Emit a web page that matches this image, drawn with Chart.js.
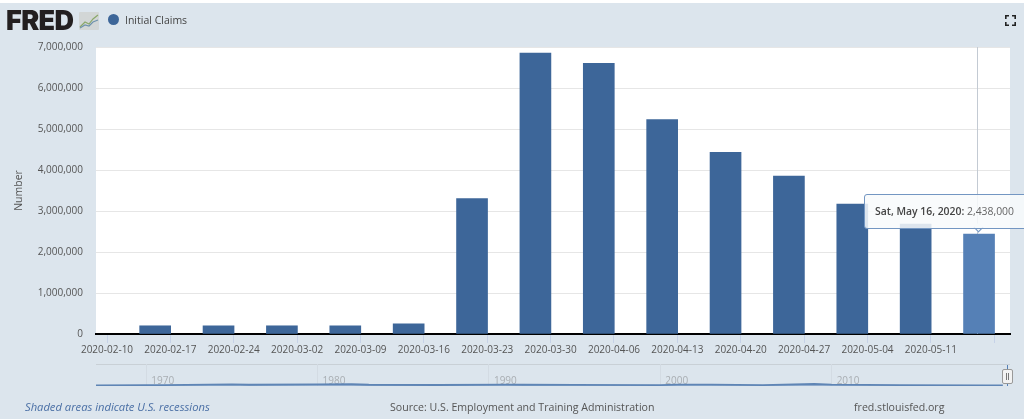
<!DOCTYPE html>
<html>
<head>
<meta charset="utf-8">
<title>Initial Claims</title>
<script src="https://cdn.jsdelivr.net/npm/chart.js@4/dist/chart.umd.min.js"></script>
<style>
    html, body { margin: 0; padding: 0; width: 1024px; height: 419px; overflow: hidden; background: #dce5ed; font-family: "Open Sans", sans-serif; }
    canvas { position: absolute; display: block; }
    .txt { position: absolute; white-space: nowrap; }
    #topstrip { position: absolute; left: 0; top: 0; width: 1024px; height: 3px; background: #fff; }
    #logo { left: 6px; top: 6px; font: 900 27px/30px Inter, sans-serif; letter-spacing: -0.6px; color: #231f20; }
    #legendDot { position: absolute; left: 108px; top: 14px; width: 11px; height: 11px; border-radius: 50%; background: #3d6699; }
    #legendText { left: 125px; top: 12px; font-size: 10.5px; line-height: 16px; color: #444; }
    #shaded { left: 25px; top: 399px; font-size: 11.2px; line-height: 16px; font-style: italic; color: #4a6fa5; }
    #source { left: 390px; top: 399px; font-size: 10.6px; line-height: 16px; color: #555; }
    #site { left: 854px; top: 399px; font-size: 10.6px; line-height: 16px; color: #555; }
    #tip { position: absolute; box-sizing: border-box; width: 180px; height: 35px; background: rgba(248,250,252,0.86); border: 1px solid #7396c2; border-radius: 3px; font-size: 10.4px; line-height: 33px; padding-left: 10px; color: #666; white-space: nowrap; display: none; }
    #tip b { font-weight: 600; color: #444; }
    #tipCaret { position: absolute; width: 6px; height: 6px; background: #f8fafc; border-right: 1px solid #7396c2; border-bottom: 1px solid #7396c2; transform: rotate(45deg); display: none; }
    #handle { position: absolute; left: 1002px; top: 369px; width: 9px; height: 13px; background: #f2f2f2; border: 1px solid #999; border-radius: 2px; }
    #handle i { position: absolute; top: 3px; width: 1px; height: 7px; background: #777; }
    #handleLine { position: absolute; left: 1007px; top: 365px; width: 1px; height: 21px; background: #5580b6; }
</style>
</head>
<body>
<div id="topstrip"></div>
<canvas id="main" width="1024" height="419" style="left:0;top:0"></canvas>
<canvas id="nav" width="914" height="24" style="left:96px;top:364px"></canvas>

<div class="txt" id="logo">FRED</div>
<svg style="position:absolute;left:79px;top:12px" width="20" height="18">
    <rect width="20" height="18" rx="1" fill="#d2d6d6"/>
    <polyline points="1,15 6,10 10,12 14,7 19,3" fill="none" stroke="#8aa86a" stroke-width="1.2"/>
    <polyline points="1,16 6,13 10,14 14,10 19,8" fill="none" stroke="#6f93ad" stroke-width="1.2"/>
</svg>
<div id="legendDot"></div>
<div class="txt" id="legendText"></div>
<svg style="position:absolute;left:1005px;top:15px" width="11" height="11" fill="none" stroke="#222" stroke-width="1.6">
    <path d="M0.8,4 V0.8 H4 M7,0.8 H10.2 V4 M10.2,7 V10.2 H7 M4,10.2 H0.8 V7"/>
</svg>
<div class="txt" id="shaded">Shaded areas indicate U.S. recessions</div>
<div class="txt" id="source">Source: U.S. Employment and Training Administration</div>
<div class="txt" id="site">fred.stlouisfed.org</div>
<div id="handleLine"></div>
<div id="handle"><i style="left:3px"></i><i style="left:5px"></i></div>
<div id="tipCaret"></div>
<div id="tip"></div>

<script>
const seriesName = 'Initial Claims';
const barDates = ['2020-02-15', '2020-02-22', '2020-02-29', '2020-03-07', '2020-03-14', '2020-03-21', '2020-03-28',
    '2020-04-04', '2020-04-11', '2020-04-18', '2020-04-25', '2020-05-02', '2020-05-09', '2020-05-16'];
const claims = [200000, 200000, 200000, 200000, 250000, 3300000, 6850000,
    6600000, 5230000, 4430000, 3850000, 3170000, 2680000, 2438000];
const tickDates = ['2020-02-10', '2020-02-17', '2020-02-24', '2020-03-02', '2020-03-09', '2020-03-16', '2020-03-23',
    '2020-03-30', '2020-04-06', '2020-04-13', '2020-04-20', '2020-04-27', '2020-05-04', '2020-05-11'];
const lastTickDate = '2020-05-18'; // tick without a label
const yTicks = [0, 1000000, 2000000, 3000000, 4000000, 5000000, 6000000, 7000000];

// navigator: long history, rough values read from the strip
const navYears = [1967, 1970, 1971, 1975, 1976, 1980, 1982, 1983, 1987, 1991, 1992, 1995, 2000, 2001, 2003, 2006, 2009, 2010, 2014, 2019, 2020];
const navClaims = [210000, 290000, 300000, 500000, 400000, 500000, 560000, 400000, 320000, 420000, 400000, 340000, 290000, 420000, 410000, 310000, 640000, 460000, 300000, 215000, 220000];
const navTicks = [1970, 1980, 1990, 2000, 2010];

const DAY = 86400000;
const barShift = 0.32 * DAY;
const ms = s => Date.parse(s + 'T00:00:00Z');

document.getElementById('legendText').textContent = seriesName;

const crosshair = {
    id: 'crosshair',
    beforeDatasetsDraw(chart) {
        const active = chart.getActiveElements();
        if (!active.length) return;
        const x = Math.round(active[0].element.x) - 1.5;
        const { ctx, chartArea } = chart;
        ctx.save();
        ctx.strokeStyle = '#c3cad3';
        ctx.lineWidth = 1;
        ctx.beginPath();
        ctx.moveTo(x, chartArea.top);
        ctx.lineTo(x, chartArea.bottom);
        ctx.stroke();
        ctx.restore();
    }
};

const plotBg = {
    id: 'plotBg',
    beforeDraw(chart) {
        const { ctx, chartArea: a } = chart;
        ctx.fillStyle = '#fff';
        ctx.fillRect(a.left, a.top, a.right - a.left, a.bottom - a.top);
    }
};

function drawTip(context) {
    const tooltip = context.tooltip;
    const box = document.getElementById('tip');
    const caret = document.getElementById('tipCaret');
    if (tooltip.opacity === 0) return;
    const title = tooltip.title[0];
    const value = tooltip.body[0].lines[0];
    box.innerHTML = '<b>' + title + ':</b> ' + value;
    box.style.display = 'block';
    box.style.left = (tooltip.caretX - 115) + 'px';
    box.style.top = (tooltip.caretY - 40) + 'px';
    caret.style.display = 'block';
    caret.style.left = (tooltip.caretX - 4) + 'px';
    caret.style.top = (tooltip.caretY - 10) + 'px';
}

const main = new Chart(document.getElementById('main'), {
    type: 'bar',
    data: {
        datasets: [{
            label: seriesName,
            data: barDates.map((d, i) => ({ x: ms(d) + barShift, y: claims[i] })),
            backgroundColor: '#3d6699',
            hoverBackgroundColor: '#5580b6',
            borderWidth: 0,
            barThickness: 31
        }]
    },
    options: {
        responsive: false,
        animation: false,
        events: [],
        layout: { padding: { top: 47, right: 14, bottom: 55, left: 0 } },
        interaction: { mode: 'nearest', axis: 'x', intersect: false },
        scales: {
            x: {
                type: 'linear',
                offset: false,
                min: ms('2020-02-08') + 0.785 * DAY,
                max: ms('2020-05-19') + 0.74 * DAY,
                afterBuildTicks(scale) {
                    scale.ticks = tickDates.concat(lastTickDate).map(d => ({ value: ms(d) }));
                },
                afterFit(scale) { scale.height = 30; },
                grid: { offset: false, drawOnChartArea: false, color: '#c6d2e8', tickLength: 9 },
                border: { color: '#000', width: 2 },
                ticks: {
                    autoSkip: false,
                    maxRotation: 0,
                    padding: 1,
                    color: '#555',
                    font: { family: 'Open Sans', size: 10 },
                    callback(v) {
                        const d = new Date(v).toISOString().slice(0, 10);
                        return tickDates.includes(d) ? d : '';
                    }
                }
            },
            y: {
                min: 0,
                max: 7000000,
                afterBuildTicks(scale) { scale.ticks = yTicks.map(v => ({ value: v })); },
                afterFit(scale) { scale.width = 96; },
                grid: { color: '#e6e6e6', drawTicks: false },
                border: { display: false },
                title: { display: true, text: 'Number', color: '#555', padding: { top: 13, bottom: 0 }, font: { family: 'Open Sans', size: 10.5 } },
                ticks: {
                    padding: 13,
                    color: '#555',
                    font: { family: 'Open Sans', size: 10 },
                    callback: v => v.toLocaleString('en-US')
                }
            }
        },
        plugins: {
            legend: { display: false },
            tooltip: {
                enabled: false,
                external: drawTip,
                callbacks: {
                    title: items => new Date(items[0].parsed.x).toLocaleDateString('en-US', { weekday: 'short', month: 'short', day: 'numeric', year: 'numeric', timeZone: 'UTC' }),
                    label: item => item.parsed.y.toLocaleString('en-US')
                }
            }
        }
    },
    plugins: [plotBg, crosshair]
});

const last = claims.length - 1;
main.setActiveElements([{ datasetIndex: 0, index: last }]);
main.tooltip.setActiveElements([{ datasetIndex: 0, index: last }], { x: 0, y: 0 });
main.update();

new Chart(document.getElementById('nav'), {
    type: 'line',
    data: {
        datasets: [{
            data: navYears.map((y, i) => ({ x: y, y: navClaims[i] })),
            borderColor: '#5f85b5',
            borderWidth: 1.8,
            backgroundColor: 'rgba(85,128,182,0.45)',
            fill: 'origin',
            pointRadius: 0,
            tension: 0
        }]
    },
    options: {
        responsive: false,
        animation: false,
        events: [],
        layout: { padding: { bottom: 2 } },
        scales: {
            x: {
                type: 'linear',
                position: { y: 3500000 }, // sits inside the strip, so the labels are not clipped
                min: 1967.08,
                max: 2020.42,
                afterBuildTicks(scale) { scale.ticks = navTicks.map(v => ({ value: v })); },
                grid: { color: '#d3dbe3', drawTicks: false },
                border: { display: false },
                ticks: {
                    autoSkip: false,
                    maxRotation: 0,
                    align: 'start',
                    padding: 0,
                    color: '#a9aeb3',
                    font: { family: 'Open Sans', size: 10 },
                    callback: v => '  ' + v
                }
            },
            y: {
                display: false,
                min: 0,
                max: 7000000
            }
        },
        plugins: { legend: { display: false }, tooltip: { enabled: false } }
    },
    plugins: [{
        id: 'navTop',
        beforeDraw(chart) {
            const ctx = chart.ctx;
            ctx.fillStyle = '#c9d0d6';
            ctx.fillRect(0, 0, chart.width, 1);
        }
    }]
});
</script>
</body>
</html>
